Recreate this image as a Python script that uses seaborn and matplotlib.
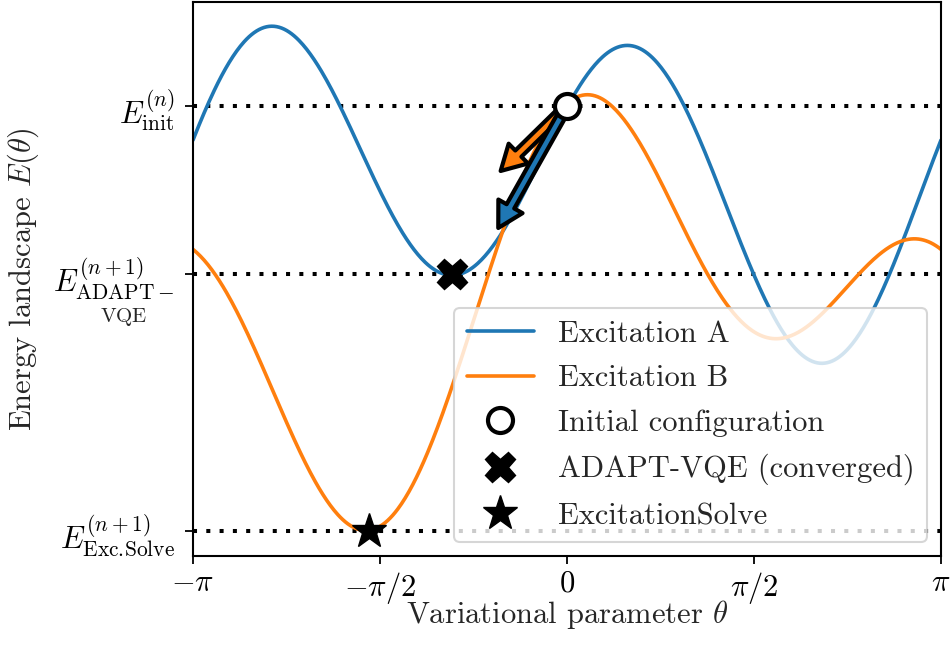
import numpy as np
import pandas as pd
import matplotlib
matplotlib.use("Agg")
import matplotlib.pyplot as plt
import seaborn as sns

# Energy samples along the two excitation landscapes (theta in rad, energy in arb. units)
theta_a = [-3.1416, -3.041, -2.472, -1.907, -1.554, -0.966, -0.521, 0.0,
           0.512, 0.974, 1.579, 2.150, 2.713, 3.1416]
energy_a = [4.13, 4.50, 5.28, 4.50, 3.61, 2.82, 3.26, 4.50,
            5.11, 4.50, 2.82, 1.91, 2.82, 4.16]
theta_b = [-3.1416, -2.940, -2.470, -1.663, -1.042, -0.630, 0.0, 0.176,
           0.428, 1.184, 1.789, 2.478, 2.957, 3.1416]
energy_b = [3.09, 2.82, 1.56, 0.25, 1.56, 2.82, 4.50, 4.60,
            4.50, 2.82, 2.15, 2.82, 3.18, 3.10]

# Reference energy levels and the optimiser end points
level_energy = [4.50, 2.82, 0.25]
level_labels = [r"$E^{(n)}_{\mathrm{init}}$",
                r"$E^{(n+1)}_{\mathrm{ADAPT-}}$",
                r"$E^{(n+1)}_{\mathrm{Exc.\!Solve}}$"]
point_theta = [0.0, -0.966, -1.663]
point_energy = [4.50, 2.82, 0.25]
point_labels = ["Initial configuration", "ADAPT-VQE (converged)", "ExcitationSolve"]

# Gradient arrows from the initial configuration (tip theta, tip energy)
arrow_a_tip = (-0.577, 3.28)
arrow_b_tip = (-0.557, 3.85)

xtick_vals = [-np.pi, -np.pi / 2, 0, np.pi / 2, np.pi]
xtick_labels = [r"$-\pi$", r"$-\pi/2$", r"$0$", r"$\pi/2$", r"$\pi$"]


def fourier_basis(t):
    t = np.asarray(t, dtype=float)
    return np.column_stack([np.ones_like(t), np.cos(t), np.sin(t),
                            np.cos(2 * t), np.sin(2 * t)])


def landscape(theta_s, energy_s, grid):
    # second-order trigonometric model of a single-excitation energy landscape
    coef, *_ = np.linalg.lstsq(fourier_basis(theta_s), np.asarray(energy_s), rcond=None)
    return fourier_basis(grid) @ coef


sns.set_theme(style="ticks")
plt.rcParams.update({
    "font.family": "serif",
    "font.serif": ["cmr10"],
    "mathtext.fontset": "cm",
    "axes.unicode_minus": False,
    "axes.formatter.use_mathtext": True,
    "font.size": 22,
})

blue, orange = sns.color_palette("tab10")[0], sns.color_palette("tab10")[1]

grid = np.linspace(-np.pi, np.pi, 600)
df = pd.DataFrame({
    "theta": np.concatenate([grid, grid]),
    "E": np.concatenate([landscape(theta_a, energy_a, grid),
                         landscape(theta_b, energy_b, grid)]),
    "excitation": ["Excitation A"] * len(grid) + ["Excitation B"] * len(grid),
})

fig = plt.figure(figsize=(9.52, 6.48), dpi=100)
ax = fig.add_axes([0.2027, 0.142, 0.7857, 0.855])

for e in level_energy:
    ax.axhline(e, color="black", lw=2.9, ls=(0, (1, 2.3)), zorder=1)

sns.lineplot(data=df, x="theta", y="E", hue="excitation",
             palette=[blue, orange], lw=2.6, ax=ax, zorder=2)

arrow_style = "simple,head_length=0.85,head_width=0.95,tail_width=0.3"
ax.annotate("", xy=arrow_b_tip, xytext=(point_theta[0], point_energy[0]),
            arrowprops=dict(arrowstyle=arrow_style, fc=orange, ec="black", lw=3,
                            shrinkA=0, shrinkB=0, mutation_scale=21), zorder=4)
ax.annotate("", xy=arrow_a_tip, xytext=(point_theta[0], point_energy[0]),
            arrowprops=dict(arrowstyle=arrow_style, fc=blue, ec="black", lw=3,
                            shrinkA=0, shrinkB=0, mutation_scale=21), zorder=5)

ax.plot(point_theta[0], point_energy[0], "o", ms=18, mfc="white", mec="black",
        mew=3, ls="none", label=point_labels[0], zorder=6)
ax.plot(point_theta[1], point_energy[1], "X", ms=22, color="black", mec="black",
        ls="none", label=point_labels[1], zorder=6)
ax.plot(point_theta[2], point_energy[2], "*", ms=26, color="black", mec="black",
        ls="none", label=point_labels[2], zorder=6)

ax.set_xlim(-np.pi, np.pi)
ax.set_ylim(0, 5.54)
ax.set_xticks(xtick_vals)
ax.set_xticklabels(xtick_labels)
ax.set_yticks(level_energy)
ax.set_yticklabels(level_labels)
ax.tick_params(axis="both", direction="out", length=6, width=1.3, labelsize=22,
               color="black", labelcolor="black")
ax.tick_params(axis="y", pad=7)
ax.tick_params(axis="x", pad=4)
for sp in ax.spines.values():
    sp.set_visible(True)
    sp.set_color("black")
    sp.set_linewidth(1.5)

ax.annotate(r"$\mathrm{VQE}$", xy=(0, level_energy[1]),
            xycoords=("axes fraction", "data"), xytext=(-50, -31),
            textcoords="offset points", ha="center", va="center", fontsize=15)

ax.set_xlabel(r"Variational parameter $\theta$", fontsize=22, labelpad=-6)
ax.set_ylabel(r"Energy landscape $E(\theta)$", fontsize=22, labelpad=9)

leg = ax.legend(loc="lower right", fontsize=22, framealpha=0.8, fancybox=True,
                edgecolor="0.8", handlelength=2.2, borderaxespad=0.45,
                labelspacing=0.56)
leg.get_frame().set_linewidth(1.5)

fig.savefig("out.png", dpi=100)
